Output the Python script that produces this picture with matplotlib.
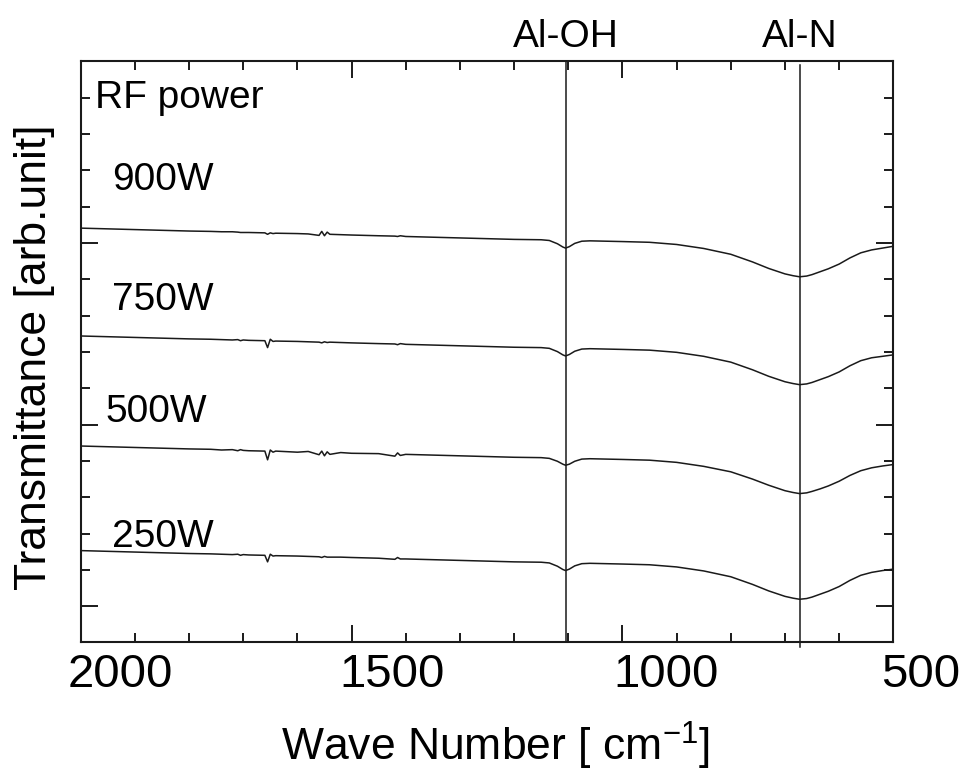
import matplotlib
matplotlib.use("Agg")
import matplotlib.pyplot as plt
import matplotlib.transforms as mtransforms
from matplotlib.ticker import FixedLocator, MultipleLocator

plt.rcParams["font.family"] = ["Liberation Sans", "DejaVu Sans"]
plt.rcParams["mathtext.fontset"] = "custom"
plt.rcParams["mathtext.rm"] = "Liberation Sans"
plt.rcParams["mathtext.it"] = "Liberation Sans:italic"

# wave number grid [cm^-1]
wave_number = [2000, 1950, 1900, 1850, 1800, 1760, 1740, 1720, 1710, 1705,
               1700, 1690, 1660, 1655, 1650, 1645, 1640, 1600, 1580, 1560,
               1555, 1550, 1545, 1540, 1520, 1500, 1450, 1420, 1415, 1410,
               1400, 1350, 1300, 1250, 1200, 1150, 1135, 1120, 1110, 1105,
               1098, 1088, 1075, 1060, 1000, 950, 900, 850, 800, 760,
               730, 700, 685, 673, 660, 650, 635, 620, 600, 580,
               560, 540, 520, 500]

# transmittance (arb. unit, curves offset)
t_900 = [11.41, 11.39, 11.37, 11.35, 11.33, 11.32, 11.31, 11.31, 11.30, 11.29,
         11.29, 11.29, 11.28, 11.24, 11.28, 11.26, 11.27, 11.26, 11.25, 11.21,
         11.32, 11.20, 11.30, 11.24, 11.23, 11.22, 11.20, 11.19, 11.18, 11.20,
         11.18, 11.16, 11.14, 11.12, 11.10, 11.09, 11.07, 10.98, 10.89, 10.86,
         10.90, 10.99, 11.05, 11.06, 11.04, 11.02, 10.96, 10.85, 10.69, 10.48,
         10.30, 10.15, 10.10, 10.07, 10.09, 10.13, 10.21, 10.29, 10.42, 10.59,
         10.73, 10.81, 10.86, 10.91]
t_750 = [8.44, 8.42, 8.40, 8.38, 8.36, 8.35, 8.34, 8.33, 8.34, 8.31,
         8.33, 8.32, 8.31, 8.12, 8.35, 8.29, 8.30, 8.29, 8.28, 8.27,
         8.25, 8.28, 8.26, 8.27, 8.26, 8.25, 8.23, 8.22, 8.20, 8.23,
         8.21, 8.19, 8.17, 8.15, 8.13, 8.12, 8.10, 8.01, 7.92, 7.89,
         7.93, 8.02, 8.08, 8.09, 8.07, 8.05, 7.99, 7.88, 7.72, 7.51,
         7.33, 7.18, 7.13, 7.10, 7.12, 7.16, 7.24, 7.32, 7.45, 7.62,
         7.76, 7.84, 7.88, 7.92]
t_500 = [5.41, 5.39, 5.37, 5.35, 5.33, 5.32, 5.30, 5.31, 5.28, 5.31,
         5.29, 5.28, 5.27, 5.03, 5.30, 5.24, 5.27, 5.24, 5.26, 5.17,
         5.27, 5.14, 5.25, 5.18, 5.23, 5.21, 5.20, 5.13, 5.22, 5.15,
         5.18, 5.16, 5.14, 5.12, 5.10, 5.09, 5.07, 4.99, 4.91, 4.88,
         4.91, 4.99, 5.05, 5.06, 5.04, 5.02, 4.96, 4.85, 4.70, 4.50,
         4.33, 4.18, 4.13, 4.10, 4.12, 4.16, 4.23, 4.31, 4.44, 4.60,
         4.73, 4.81, 4.86, 4.90]
t_250 = [2.53, 2.51, 2.49, 2.47, 2.45, 2.44, 2.43, 2.42, 2.43, 2.40,
         2.42, 2.41, 2.40, 2.22, 2.43, 2.38, 2.39, 2.38, 2.37, 2.36,
         2.34, 2.37, 2.35, 2.35, 2.35, 2.34, 2.32, 2.29, 2.34, 2.30,
         2.30, 2.28, 2.26, 2.24, 2.22, 2.21, 2.19, 2.10, 2.01, 1.98,
         2.02, 2.11, 2.17, 2.18, 2.16, 2.14, 2.08, 1.97, 1.81, 1.60,
         1.42, 1.27, 1.22, 1.19, 1.21, 1.25, 1.33, 1.41, 1.54, 1.71,
         1.85, 1.93, 1.98, 2.02]

series_labels = ["900W", "750W", "500W", "250W"]
peak_names = ["Al-OH", "Al-N"]
peak_positions = [1105, 673]
tick_values = [2000, 1500, 1000, 500]
tick_labels = ["2000", "1500", "1000", "500"]

fig = plt.figure(figsize=(9.65, 7.71), dpi=100)
ax = fig.add_axes([0.0836, 0.1667, 0.8421, 0.7536])

for t in (t_900, t_750, t_500, t_250):
    ax.plot(wave_number, t, color="#1a1a1a", lw=1.1)

ax.set_xlim(2000, 500)
ax.set_ylim(0, 16)

# peak markers
ax.axvline(peak_positions[0], color="#1a1a1a", lw=1.1)
ax.axvline(peak_positions[1], ymin=-0.008, ymax=0.994, color="#1a1a1a",
           lw=1.1, clip_on=False)
top_trans = mtransforms.blended_transform_factory(ax.transData, ax.transAxes)
for name, pos in zip(peak_names, peak_positions):
    ax.text(pos, 1.0255, name, transform=top_trans, ha="center",
            va="baseline", fontsize=28)

# ticks
ax.xaxis.set_major_locator(FixedLocator(tick_values))
ax.xaxis.set_minor_locator(MultipleLocator(100))
ax.yaxis.set_major_locator(FixedLocator([1, 6, 11, 16]))
ax.yaxis.set_minor_locator(MultipleLocator(1))
ax.tick_params(which="both", direction="in", top=True, right=True,
               labelbottom=False, labelleft=False, width=1.4, color="#1a1a1a")
ax.tick_params(which="major", length=12.5)
ax.tick_params(which="minor", length=6.2)
for s in ax.spines.values():
    s.set_linewidth(1.5)
    s.set_color("#1a1a1a")

# tick labels sit slightly right of the tick marks in the original
label_x = [1926, 1425, 920, 449]
for x, lab in zip(label_x, tick_labels):
    ax.text(x, -0.0766, lab, transform=top_trans, ha="center",
            va="baseline", fontsize=34, clip_on=False)

# annotations
ax.text(1973.6, 14.71, "RF power", fontsize=28, ha="left", va="baseline")
label_pos = [(1942.8, 12.46), (1942.8, 9.16), (1955, 6.08), (1942.8, 2.63)]
for (x, y), lab in zip(label_pos, series_labels):
    ax.text(x, y, lab, fontsize=28, ha="left", va="baseline")

fig.text(0.514, 0.013, "Wave Number [ cm$^{-1}$]", fontsize=32,
         ha="center", va="baseline")
fig.text(0.0477, 0.537, "Transmittance [arb.unit]", fontsize=32,
         rotation=90, rotation_mode="anchor", ha="center", va="baseline")

fig.savefig("out.png", dpi=100)
